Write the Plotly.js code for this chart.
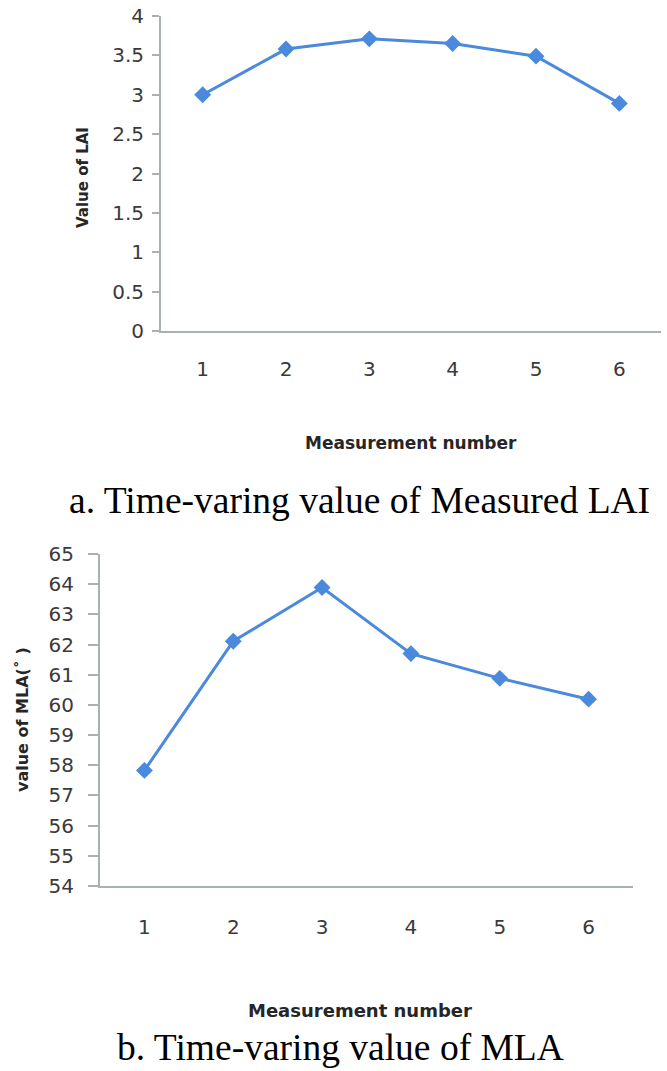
<!DOCTYPE html>
<html>
<head>
<meta charset="utf-8">
<script src="https://cdn.plot.ly/plotly-3.0.1.min.js"></script>
<style>
  html, body { margin: 0; padding: 0; background: #ffffff; }
  #chart { width: 667px; height: 1071px; }
</style>
</head>
<body>
<div id="chart"></div>
<script>
// ---- data ----
const measurementNumbers = ["1", "2", "3", "4", "5", "6"];
const laiValues = [3.0, 3.58, 3.71, 3.65, 3.49, 2.89];
const mlaValues = [57.83, 62.11, 63.89, 61.7, 60.88, 60.19];

const laiYTitle = "Value of LAI";
const mlaYTitle = "value of MLA(˚ )";
const xTitle = "Measurement number";
const captionA = "a. Time-varing value of Measured LAI";
const captionB = "b. Time-varing value of MLA";

// ---- styling ----
const W = 667, H = 1071;
const px = v => v / W;
const py = v => 1 - v / H;
const lineColor = "#4a89dc";
const axisColor = "#a9b1b1";
const tickFont = { family: "DejaVu Sans", size: 20, color: "#3a3a3a" };
const titleFont = { family: "DejaVu Sans", size: 17, color: "#262626", weight: "bold" };
const capFont = { family: "Liberation Serif", size: 37.5, color: "#000000" };

const traces = [
  {
    x: measurementNumbers, y: laiValues, xaxis: "x", yaxis: "y",
    type: "scatter", mode: "lines+markers",
    line: { color: lineColor, width: 3 },
    marker: { symbol: "diamond", size: 13, color: lineColor },
    hoverinfo: "skip"
  },
  {
    x: measurementNumbers, y: mlaValues, xaxis: "x2", yaxis: "y2",
    type: "scatter", mode: "lines+markers",
    line: { color: lineColor, width: 3 },
    marker: { symbol: "diamond", size: 13, color: lineColor },
    hoverinfo: "skip"
  }
];

const layout = {
  width: W, height: H,
  margin: { l: 0, r: 0, t: 0, b: 0 },
  paper_bgcolor: "#ffffff", plot_bgcolor: "#ffffff",
  showlegend: false,
  xaxis: {
    type: "category", domain: [px(161), px(661)], range: [-0.5, 5.5],
    anchor: "y", showline: true, linecolor: axisColor, linewidth: 2,
    showgrid: false, zeroline: false, ticks: "", tickfont: tickFont,
    ticklabelstandoff: 19, fixedrange: true
  },
  yaxis: {
    domain: [py(331), py(16)], range: [0, 4], dtick: 0.5, tick0: 0,
    anchor: "x", showline: true, linecolor: axisColor, linewidth: 2,
    showgrid: false, zeroline: false, ticks: "outside", ticklen: 7,
    tickcolor: axisColor, tickwidth: 2, tickfont: tickFont,
    ticklabelstandoff: 4, fixedrange: true
  },
  xaxis2: {
    type: "category", domain: [px(100), px(633)], range: [-0.5, 5.5],
    anchor: "y2", showline: true, linecolor: axisColor, linewidth: 2,
    showgrid: false, zeroline: false, ticks: "", tickfont: tickFont,
    ticklabelstandoff: 22, fixedrange: true
  },
  yaxis2: {
    domain: [py(886), py(554)], range: [54, 65], dtick: 1, tick0: 54,
    anchor: "x2", showline: true, linecolor: axisColor, linewidth: 2,
    showgrid: false, zeroline: false, ticks: "outside", ticklen: 10,
    tickcolor: axisColor, tickwidth: 2, tickfont: tickFont,
    ticklabelstandoff: 10, fixedrange: true
  },
  annotations: [
    { text: laiYTitle, xref: "paper", yref: "paper", x: px(83), y: py(178),
      xanchor: "center", yanchor: "middle", textangle: -90, showarrow: false,
      font: Object.assign({}, titleFont, { size: 15 }) },
    { text: xTitle, xref: "paper", yref: "paper", x: px(411), y: py(443),
      xanchor: "center", yanchor: "middle", showarrow: false, font: titleFont },
    { text: captionA, xref: "paper", yref: "paper", x: px(359), y: py(500),
      xanchor: "center", yanchor: "middle", showarrow: false, font: capFont },
    { text: mlaYTitle, xref: "paper", yref: "paper", x: px(22), y: py(720),
      xanchor: "center", yanchor: "middle", textangle: -90, showarrow: false,
      font: Object.assign({}, titleFont, { size: 16 }) },
    { text: xTitle, xref: "paper", yref: "paper", x: px(360), y: py(1010),
      xanchor: "center", yanchor: "middle", showarrow: false,
      font: Object.assign({}, titleFont, { size: 18 }) },
    { text: captionB, xref: "paper", yref: "paper", x: px(340), y: py(1047),
      xanchor: "center", yanchor: "middle", showarrow: false, font: capFont }
  ]
};

Plotly.newPlot("chart", traces, layout, { displayModeBar: false, staticPlot: true });
</script>
</body>
</html>
